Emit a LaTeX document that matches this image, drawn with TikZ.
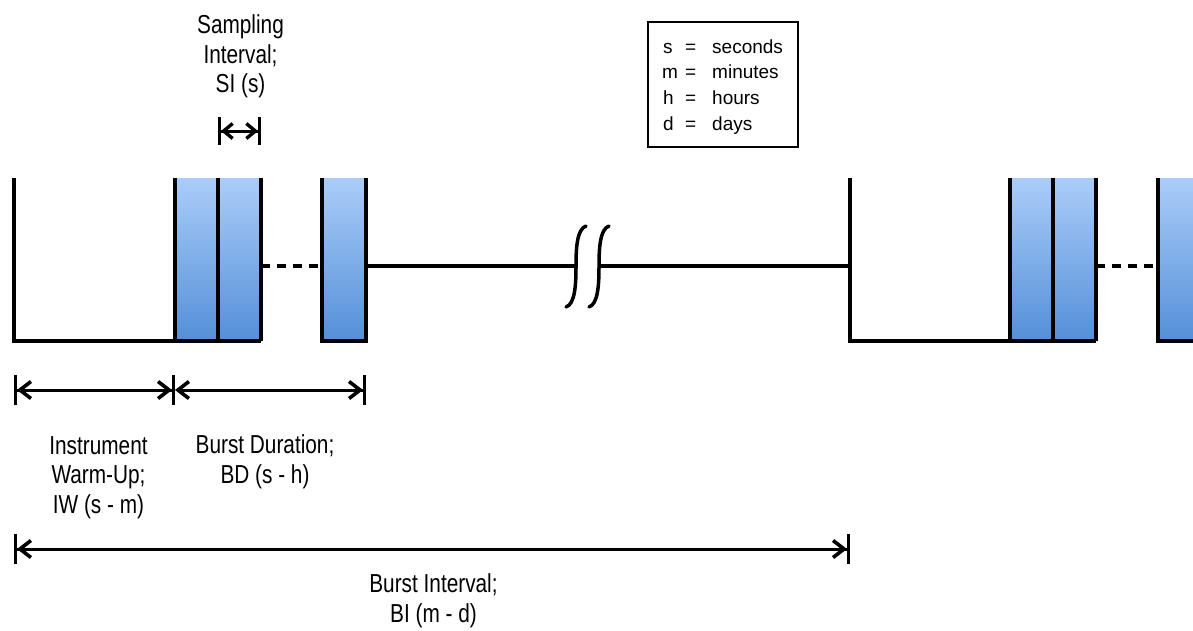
\documentclass[tikz,border=0pt]{standalone}
\usepackage{fontspec}
\setmainfont[FakeStretch=0.8]{Liberation Sans}
\newfontfamily\legendfont{Liberation Sans}
\usetikzlibrary{arrows.meta}
\definecolor{ptop}{RGB}{170,205,249}
\definecolor{pbot}{RGB}{84,143,216}
\begin{document}
\begin{tikzpicture}[x=1pt,y=-1pt,
  wave/.style={line width=4pt, line join=miter},
  pulse/.style={top color=ptop, bottom color=pbot, draw=none},
  lbl/.style={align=center, inner sep=0pt, anchor=base, font=\fontsize{26}{29.5}\selectfont},
  leg/.style={inner sep=0pt, anchor=base west, font=\legendfont\fontsize{19}{25.7}\selectfont},
  barb/.tip={Straight Barb[length=11pt,width=17pt,line width=3.6pt]},
  bar/.tip={Bar[width=30pt,line width=3pt]},
  dim/.style={line width=3pt, {bar[]barb[]}-{barb[]bar[]}},
  dimnb/.style={line width=3pt, {barb[]}-{barb[]bar[]}},
  ]
\useasboundingbox (0,0) rectangle (1193,630);
% pulses
\shade[pulse] (175,178) rectangle (261,341);
\shade[pulse] (322,178) rectangle (366,341);
\shade[pulse] (1010,178) rectangle (1096,341);
\shade[pulse] (1158,178) rectangle (1193,341);
% coordinates
\coordinate (a0) at (14,178);
\coordinate (a1) at (14,341);
\coordinate (p3) at (261,341);
\coordinate (q1) at (322,341);
\coordinate (q2) at (366,341);
\coordinate (b0) at (850,178);
\coordinate (b1) at (850,341);
\coordinate (r3) at (1096,341);
\coordinate (s1) at (1158,341);
\coordinate (s2) at (1193,341);
% waveform left
\draw[wave] (a0) -- (a1) -- (p3);
\foreach \x in {175,218,261} \draw[wave] (\x,178) -- (\x,341);
\draw[wave, dash pattern=on 9pt off 7pt] (261,266) -- (322,266);
\draw[wave] (322,178) -- (q1) -- (q2) -- (366,178);
\draw[wave, line width=3.5pt] (366,266) -- (850,266);
% break
\fill[white] (586,226) .. controls (577,229) and (576,248) .. (576,266) .. controls (576,285) and (575,304) .. (566,307)
  -- (589,307) .. controls (598,304) and (599,285) .. (599,266) .. controls (599,248) and (600,229) .. (609,226) -- cycle;
\draw[line width=3.5pt, line cap=round] (586,226) .. controls (577,229) and (576,248) .. (576,266) .. controls (576,285) and (575,304) .. (566,307);
\draw[line width=3.5pt, line cap=round] (609,226) .. controls (600,229) and (599,248) .. (599,266) .. controls (599,285) and (598,304) .. (589,307);
% waveform right
\draw[wave] (b0) -- (b1) -- (r3);
\foreach \x in {1010,1053,1096} \draw[wave] (\x,178) -- (\x,341);
\draw[wave, dash pattern=on 9pt off 7pt] (1096,266) -- (1158,266);
\draw[wave] (1158,178) -- (s1) -- (s2);
% sampling interval
\coordinate (si0) at (218,131);
\coordinate (si1) at (261,131);
\draw[line width=3pt, {Bar[width=28pt,line width=3pt]Straight Barb[length=9pt,width=15pt,line width=3.4pt]}-{Straight Barb[length=9pt,width=15pt,line width=3.4pt]Bar[width=28pt,line width=3pt]}] (si0) -- (si1);
\node[lbl] (silbl) at (240.5,92.5) {Sampling\\Interval;\\SI (s)};
% dimension arrows
\coordinate (d0) at (14,390);
\coordinate (d1) at (175,390);
\coordinate (d2) at (366,390);
\draw[dim] (d0) -- (d1);
\draw[dimnb] (d1) -- (d2);
\coordinate (e0) at (14,549);
\coordinate (e1) at (850,549);
\draw[dim] (e0) -- (e1);
\node[lbl] (iwlbl) at (98.5,513) {Instrument\\Warm-Up;\\IW (s - m)};
\node[lbl] (bdlbl) at (265,483) {Burst Duration;\\BD (s - h)};
\node[lbl] (bilbl) at (433.5,622) {Burst Interval;\\BI (m - d)};
% legend
\node[draw, line width=2pt, minimum width=150pt, minimum height=125pt, inner sep=0pt] (legend) at (723,84.5) {};
\node[leg] (ls) at (663,53) {s};
\node[leg] (le1) at (685,53) {=};
\node[leg] (lw1) at (712,53) {seconds};
\node[leg] (lm) at (662,78.7) {m};
\node[leg] (le2) at (685,78.7) {=};
\node[leg] (lw2) at (712,78.7) {minutes};
\node[leg] (lh) at (663,104.4) {h};
\node[leg] (le3) at (685,104.4) {=};
\node[leg] (lw3) at (712,104.4) {hours};
\node[leg] (ld) at (663,130) {d};
\node[leg] (le4) at (685,130) {=};
\node[leg] (lw4) at (712,130) {days};
\end{tikzpicture}
\end{document}
